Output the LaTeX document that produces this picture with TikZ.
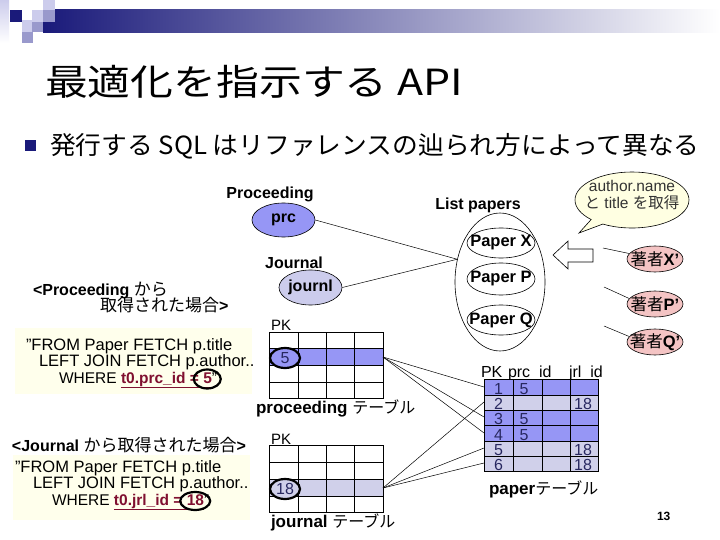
\documentclass[tikz,border=0pt]{standalone}
\usepackage{fontspec}
\setmainfont{Liberation Sans}
\newfontfamily\cjk{Noto Sans CJK JP}
\newcommand\JP[1]{{\cjk #1}}
\usetikzlibrary{shapes.geometric,shapes.callouts,calc}
\definecolor{navy}{RGB}{26,26,122}
\definecolor{lavA}{RGB}{204,204,236}
\definecolor{lavB}{RGB}{153,153,204}
\definecolor{blueRow}{RGB}{150,150,245}
\definecolor{lightRow}{RGB}{208,208,234}
\definecolor{pinkA}{RGB}{244,196,196}
\definecolor{cream}{RGB}{255,255,236}
\definecolor{bubble}{RGB}{255,255,226}
\definecolor{maroonT}{RGB}{128,16,48}
\definecolor{tabtxt}{RGB}{40,40,96}
\begin{document}
\begin{tikzpicture}[x=1pt,y=-1pt,
  txt/.style={anchor=base west,inner sep=0,outer sep=0},
  ctxt/.style={anchor=base,inner sep=0,outer sep=0},
  oval/.style={ellipse,draw,inner sep=0,line width=0.6pt},
  link/.style={line width=0.5pt},
  ring/.style={ellipse,draw,line width=2.2pt,inner sep=0},
  gridl/.style={line width=0.7pt},
  lbl/.style={font=\fontsize{16}{19}\selectfont},
  code/.style={font=\fontsize{16.5}{17}\selectfont},
  codew/.style={font=\fontsize{15.5}{17}\selectfont},
  cell/.style={anchor=base,inner sep=0,font=\fontsize{16}{16}\selectfont,text=tabtxt}]
\useasboundingbox (0,0) rectangle (720,540);
\fill[white] (0,0) rectangle (720,540);
% header decoration
\shade[left color=navy, right color=white] (43,10) rectangle (720,33);
\shade[top color=lavA, bottom color=white] (0,0) rectangle (9,43);
\fill[navy] (10,10) rectangle (22,22);
\fill[lavA] (32,10) rectangle (43,22);
\fill[lavA] (43,0) rectangle (55,10);
\fill[lavB] (43,10) rectangle (55,22);
\fill[lavA] (22,20) rectangle (32,32);
\fill[lavB] (32,22) rectangle (43,32);
\fill[lavB] (22,32) rectangle (33,43);
% title and bullet
\node[txt,font=\cjk\fontsize{36}{36}\selectfont] (title) at (45,96) {\scalebox{1.19}[1]{最適化を指示する API}};
\fill[navy] (25,140) rectangle (36,151);
\node[txt,font=\cjk\fontsize{25}{25}\selectfont] (bullet) at (50,155) {\scalebox{1.03}[1]{発行する SQL はリファレンスの辿られ方によって異なる}};
% Proceeding / Journal entities
\node[ctxt,lbl] (proclbl) at (270,199) {\textbf{Proceeding}};
\node[oval,fill=blueRow,minimum width=63,minimum height=34] (prc) at (283.5,220) {\makebox[0pt]{\fontsize{16}{16}\selectfont\bfseries prc}};
\node[ctxt,lbl] (jrnlbl) at (294,268) {\textbf{Journal}};
\node[oval,fill=lavA,minimum width=63,minimum height=35] (journl) at (310.5,287.5) {\makebox[0pt]{\fontsize{16}{16}\selectfont\bfseries journl}};
% List papers
\node[ctxt,lbl] (lplbl) at (478,210) {\textbf{List papers}};
\node[oval,minimum width=90,minimum height=138] (lp) at (500,282) {};
\node[oval,minimum width=68,minimum height=30] (px) at (501,243) {\makebox[0pt]{\fontsize{16.5}{16}\selectfont\bfseries Paper X}};
\node[oval,minimum width=68,minimum height=32] (pp) at (501,279) {\makebox[0pt]{\fontsize{16.5}{16}\selectfont\bfseries Paper P}};
\node[oval,minimum width=68,minimum height=30] (pq) at (501,320) {\makebox[0pt]{\fontsize{16.5}{16}\selectfont\bfseries Paper Q}};
\draw[link] (prc.east) -- (lp.152);
\draw[link] (journl.east) -- (lp.152);
% speech bubble
\node[ellipse callout,draw,fill=bubble,line width=0.6pt,inner sep=0,minimum width=114,minimum height=56,callout absolute pointer={(579,233)}] (bub) at (632,200) {};
\node[ctxt,font=\fontsize{15.5}{15}\selectfont,text=black!80] (bubt1) at (632,192) {author.name};
\node[ctxt,font=\fontsize{15.5}{15}\selectfont,text=black!80] (bubt2) at (632,209) {\JP{と} title \JP{を取得}};
% hollow arrow
\draw[line width=0.6pt] (553,255) -- (568,241) -- (568,249) -- (593,249) -- (593,262) -- (568,262) -- (568,269) -- cycle;
% authors
\node[oval,fill=pinkA,minimum width=56,minimum height=26] (ax) at (655,259) {\makebox[0pt]{\fontsize{16.5}{16}\selectfont\JP{著者}\textbf{X'}}};
\node[oval,fill=pinkA,minimum width=56,minimum height=26] (ap) at (655,304) {\makebox[0pt]{\fontsize{16.5}{16}\selectfont\JP{著者}\textbf{P'}}};
\node[oval,fill=pinkA,minimum width=56,minimum height=26] (aq) at (655,342) {\makebox[0pt]{\fontsize{16.5}{16}\selectfont\JP{著者}\textbf{Q'}}};
\coordinate (axs) at (603,248);
\coordinate (aps) at (604,287);
\coordinate (aqs) at (604,326);
\draw[link] (axs) -- (ax.168);
\draw[link] (aps) -- (ap.168);
\draw[link] (aqs) -- (aq.168);
% left: proceeding case
\node[txt,lbl] (pcase1) at (33,295) {\textbf{<Proceeding} \JP{\fontsize{17}{17}\selectfont から}};
\node[txt,lbl] (pcase2) at (100,311) {\JP{\fontsize{17}{17}\selectfont 取得された場合}\textbf{>}};
\fill[cream] (15,328) rectangle (252,394);
\node[txt,code] (pq1) at (26,350) {"FROM Paper FETCH p.title};
\node[txt,code] (pq2) at (39,366) {LEFT JOIN FETCH p.author..};
\node[txt,codew] (pq3) at (59,383) {WHERE \textcolor{maroonT}{\underline{\textbf{t0.prc\_id = 5}}}”};
\node[ring,minimum width=27,minimum height=19] (pr5) at ($(pq3.base east)+(-9.8,-4)$) {};
% left: journal case
\node[txt,lbl] (jcase) at (12,451) {\textbf{<Journal} \JP{\fontsize{17}{17}\selectfont から取得された場合}\textbf{>}};
\fill[cream] (13,455) rectangle (250,520);
\node[txt,code] (jq1) at (15,472) {"FROM Paper FETCH p.title};
\node[txt,code] (jq2) at (33,488) {LEFT JOIN FETCH p.author..};
\node[txt,codew] (jq3) at (52,505) {WHERE \textcolor{maroonT}{\underline{\textbf{t0.jrl\_id = 18}}}”};
\node[ring,minimum width=30,minimum height=18] (jr18) at ($(jq3.base east)+(-14,-4)$) {};
% proceeding table
\node[txt,font=\fontsize{15}{15}\selectfont] (pkp) at (271,330) {PK};
\fill[blueRow] (269,348) rectangle (383,365);
\draw[gridl] (269,332) rectangle (383,398);
\foreach \x in {298,326,354} \draw[gridl] (\x,332) -- (\x,398);
\foreach \y in {348,365,382} \draw[gridl] (269,\y) -- (383,\y);
\node[ring,fill=blueRow,minimum width=30,minimum height=20] (t5) at (285,358) {\makebox[0pt]{\fontsize{16}{16}\selectfont\color{tabtxt}5}};
\node[txt] (ptab) at (256,413) {\fontsize{17}{17}\selectfont\textbf{proceeding} \JP{\fontsize{16}{16}\selectfont テーブル}};
\coordinate (prow) at (383,357);
% journal table
\node[txt,font=\fontsize{15}{15}\selectfont] (pkj) at (271,444) {PK};
\fill[lightRow] (269,479) rectangle (383,496);
\draw[gridl] (269,445) rectangle (383,512);
\foreach \x in {298,326,354} \draw[gridl] (\x,445) -- (\x,512);
\foreach \y in {462,479,496} \draw[gridl] (269,\y) -- (383,\y);
\node[ring,fill=lightRow,minimum width=30,minimum height=20] (t18) at (285,489) {\makebox[0pt]{\fontsize{16}{16}\selectfont\color{tabtxt}18}};
\node[txt] (jtab) at (271,527) {\fontsize{17}{17}\selectfont\textbf{journal} \JP{\fontsize{16}{16}\selectfont テーブル}};
\coordinate (jrow) at (383,488);
% paper table
\node[txt,font=\fontsize{16}{16}\selectfont] (hpk) at (481,377) {PK};
\node[txt,font=\fontsize{16}{16}\selectfont] (hprc) at (508,377) {prc\_id};
\node[txt,font=\fontsize{16}{16}\selectfont] (hjrl) at (569,377) {jrl\_id};
\fill[blueRow] (484,379) rectangle (598,395);
\fill[lightRow] (484,395) rectangle (598,410);
\fill[blueRow] (484,410) rectangle (598,441);
\fill[lightRow] (484,441) rectangle (598,471);
\draw[gridl] (484,379) rectangle (598,471);
\foreach \x in {513,542,570} \draw[gridl] (\x,379) -- (\x,471);
\foreach \y in {395,410,425,441,456} \draw[gridl] (484,\y) -- (598,\y);
\node[cell] (c1) at (498.5,394) {1};
\node[cell] (c2) at (498.5,409) {2};
\node[cell] (c3) at (498.5,424) {3};
\node[cell] (c4) at (498.5,440) {4};
\node[cell] (c5) at (498.5,455) {5};
\node[cell] (c6) at (498.5,470) {6};
\node[cell] (d1) at (524,394) {5};
\node[cell] (d3) at (524,424) {5};
\node[cell] (d4) at (524,440) {5};
\node[cell] (e2) at (583,409) {18};
\node[cell] (e5) at (583,455) {18};
\node[cell] (e6) at (583,470) {18};
\node[txt] (ptabl) at (489,494) {\fontsize{17}{17}\selectfont\textbf{paper}\JP{\fontsize{16}{16}\selectfont テーブル}};
\coordinate (p1) at (484,387);
\coordinate (p2) at (484,402);
\coordinate (p3) at (484,417);
\coordinate (p4) at (484,433);
\coordinate (p5) at (484,448);
\coordinate (p6) at (484,463);
\draw[link] (prow) -- (p1);
\draw[link] (prow) -- (p3);
\draw[link] (prow) -- (p4);
\draw[link] (jrow) -- (p2);
\draw[link] (jrow) -- (p5);
\draw[link] (jrow) -- (p6);
% slide number
\node[txt,font=\fontsize{12}{12}\selectfont\bfseries] (pg) at (657,520) {13};
\end{tikzpicture}
\end{document}
